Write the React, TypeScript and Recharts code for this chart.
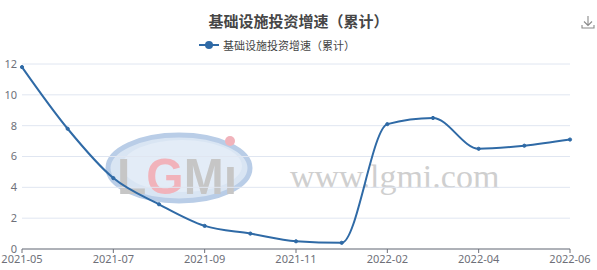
import React from 'react';
import { LineChart, Line, XAxis, YAxis, CartesianGrid } from 'recharts';

const months = [
  '2021-05', '2021-06', '2021-07', '2021-08', '2021-09', '2021-10', '2021-11',
  '2021-12', '2022-02', '2022-03', '2022-04', '2022-05', '2022-06',
];
const growth = [11.8, 7.8, 4.6, 2.9, 1.5, 1.0, 0.5, 0.4, 8.1, 8.5, 6.5, 6.7, 7.1];
const yTicks = [0, 2, 4, 6, 8, 10, 12];

const seriesName = '基础设施投资增速（累计）';
const data = months.map((m, i) => ({ month: m, value: growth[i] }));

const LINE = '#2f6aa6';
const AXIS_TEXT = '#6e7079';

// faint site watermark behind the plot
const Watermark: React.FC = () => (
  <svg width={597} height={270} style={{ position: 'absolute', left: 0, top: 0 }}>
    <ellipse cx={179} cy={168} rx={71} ry={33} fill="#d9e5f3" stroke="#b9cde7" strokeWidth={5} />
    <ellipse cx={182} cy={166} rx={60} ry={26} fill="#e3ecf7" />
    <text
      x={117}
      y={194}
      textLength={120}
      lengthAdjust="spacingAndGlyphs"
      fontFamily="Liberation Sans, Arial"
      fontWeight={700}
      fontSize={50}
    >
      <tspan fill="#c6c6c6">L</tspan>
      <tspan fill="#f1b3bb">G</tspan>
      <tspan fill="#c6c6c6">M</tspan>
      <tspan fill="#c6c6c6">ı</tspan>
    </text>
    <circle cx={230} cy={141} r={5} fill="#f1b3bb" />
    <text x={290} y={188} fontFamily="Liberation Serif, serif" fontSize={34} fill="#cfcfcf">www.lgmi.com</text>
  </svg>
);

const App: React.FC = () => {
  return (
    <div style={{ position: 'absolute', left: 0, top: 0, width: 597, height: 270, background: '#fff' }}>
      <Watermark />
      <div
        style={{
          position: 'absolute', left: 0, top: 10, width: 597, textAlign: 'center',
          fontFamily: '"Noto Sans CJK SC", sans-serif', fontSize: 15, fontWeight: 700, color: '#464646',
        }}
      >
        {seriesName}
      </div>
      <svg width={14} height={14} style={{ position: 'absolute', left: 581, top: 15 }}>
        <path d="M7 1 V10 M3 6.5 L7 10.5 L11 6.5 M1 10 V13 H13 V10" stroke="#8a8a8a" strokeWidth={1.1} fill="none" />
      </svg>
      <div
        style={{
          position: 'absolute', left: 199, top: 37, display: 'flex', alignItems: 'center',
          fontFamily: '"Noto Sans CJK SC", sans-serif', fontSize: 11, color: '#444',
        }}
      >
        <svg width={20} height={14} style={{ marginRight: 4 }}>
          <line x1={0} y1={7} x2={20} y2={7} stroke={LINE} strokeWidth={2} />
          <circle cx={10} cy={7} r={4} fill={LINE} />
        </svg>
        {seriesName}
      </div>
      <div style={{ position: 'absolute', left: 0, top: 0 }}>
        <LineChart width={597} height={270} data={data} margin={{ top: 64, right: 27, left: 0, bottom: 0 }}>
          <CartesianGrid vertical={false} stroke="#e0e6f1" />
          <XAxis
            dataKey="month"
            interval={1}
            height={21}
            axisLine={{ stroke: AXIS_TEXT }}
            tickLine={{ stroke: AXIS_TEXT }}
            tickSize={4}
            tickMargin={2}
            tick={{ fill: AXIS_TEXT, fontSize: 11, fontFamily: '"Noto Sans", sans-serif' }}
          />
          <YAxis
            domain={[0, 12]}
            ticks={yTicks}
            width={22}
            axisLine={false}
            tickLine={false}
            tickSize={0}
            tickMargin={5}
            tick={{ fill: AXIS_TEXT, fontSize: 11, fontFamily: '"Noto Sans", sans-serif' }}
          />
          <Line
            type="monotone"
            dataKey="value"
            name={seriesName}
            stroke={LINE}
            strokeWidth={2}
            dot={{ r: 1.6, fill: LINE, stroke: LINE, strokeWidth: 1 }}
            activeDot={false}
            isAnimationActive={false}
          />
        </LineChart>
      </div>
    </div>
  );
};

export default App;
